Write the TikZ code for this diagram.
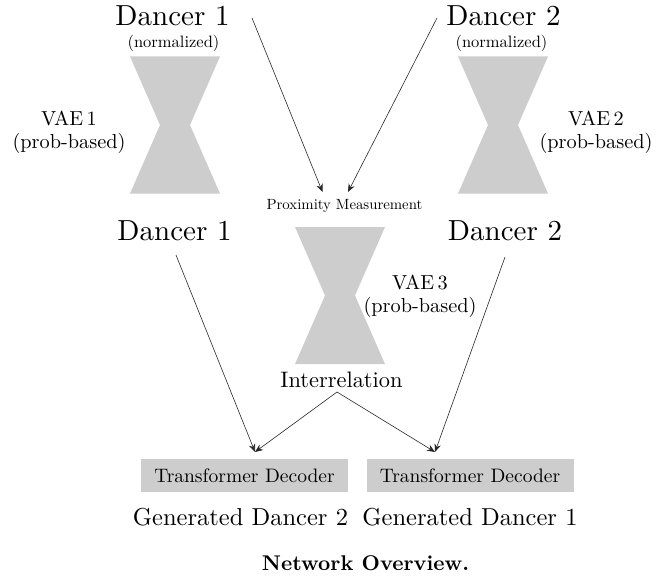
\documentclass[tikz,border=0pt]{standalone}
\usepackage{fontspec}
\setmainfont{lmroman10}[Extension=.otf, UprightFont=*-regular, BoldFont=*-bold, ItalicFont=*-italic]
\usetikzlibrary{arrows.meta}
\definecolor{hg}{RGB}{205,205,205}
\definecolor{ln}{RGB}{40,40,40}
\tikzset{
  lbl/.style={inner sep=0pt, text=black},
  dancer/.style={lbl, font=\fontsize{29}{30}\selectfont},
  sub/.style={lbl, font=\fontsize{16.5}{17}\selectfont},
  vae/.style={lbl, font=\fontsize{20.3}{23}\selectfont, align=center},
  prox/.style={lbl, font=\fontsize{14.8}{16}\selectfont},
  inter/.style={lbl, font=\fontsize{22.4}{24}\selectfont},
  gen/.style={lbl, font=\fontsize{24.5}{26}\selectfont},
  decbox/.style={fill=hg, minimum width=207pt, minimum height=33pt, inner sep=0pt, font=\fontsize{19.5}{20}\selectfont},
  title/.style={lbl, font=\fontsize{21.3}{22}\selectfont\bfseries},
  conn/.style={draw=ln, line width=0.6pt, -{Stealth[length=8pt,width=6.5pt]}},
  hourglass/.pic={\fill[hg] (-45,-68.5) -- (45,-68.5) -- (15,0) -- (45,68.5) -- (-45,68.5) -- (-15,0) -- cycle;}
}
\begin{document}
\begin{tikzpicture}[x=1pt,y=-1pt]
\useasboundingbox (0,0) rectangle (657,578);
% hourglasses
\pic (h1) at (175,125) {hourglass};
\pic (h2) at (503,125) {hourglass};
\pic (h3) at (340,295.5) {hourglass};
% texts
\node[dancer] (d1top) at (172.5,16) {Dancer 1};
\node[sub] (n1) at (173.5,43.5) {(normalized)};
\node[dancer] (d2top) at (503.5,16) {Dancer 2};
\node[sub] (n2) at (501.5,43.5) {(normalized)};
\node[vae] (v1) at (69,132.5) {VAE\,1\\(prob-based)};
\node[vae] (v2) at (596,132.5) {VAE\,2\\(prob-based)};
\node[prox] (prox) at (344.5,206) {Proximity Measurement};
\node[dancer] (d1mid) at (174.5,230.5) {Dancer 1};
\node[dancer] (d2mid) at (505,230.5) {Dancer 2};
\node[vae] (v3) at (420,296.5) {VAE\,3\\(prob-based)};
\node[inter] (inter) at (341.5,380) {Interrelation};
\node[decbox] (td1) at (244.5,475.5) {Transformer Decoder};
\node[decbox] (td2) at (470,475.5) {Transformer Decoder};
\node[gen] (g2) at (240.5,517) {Generated Dancer 2};
\node[gen] (g1) at (470,517) {Generated Dancer 1};
\node[title] (title) at (365.5,563) {Network Overview.};
% connector anchor points
\coordinate (a1s) at (252,18);
\coordinate (a1e) at (322.5,192);
\coordinate (a2s) at (437,18);
\coordinate (a2e) at (348,192);
\coordinate (b1s) at (176,255);
\coordinate (b2s) at (505,257);
\coordinate (is) at (337,392);
\coordinate (t1) at (255,452);
\coordinate (t2) at (435,452);
% connectors
\draw[conn] (a1s) -- (a1e);
\draw[conn] (a2s) -- (a2e);
\draw[conn] (b1s) -- (t1);
\draw[conn] (is) -- (t1);
\draw[conn] (is) -- (t2);
\draw[conn] (b2s) -- (t2);
\end{tikzpicture}
\end{document}
